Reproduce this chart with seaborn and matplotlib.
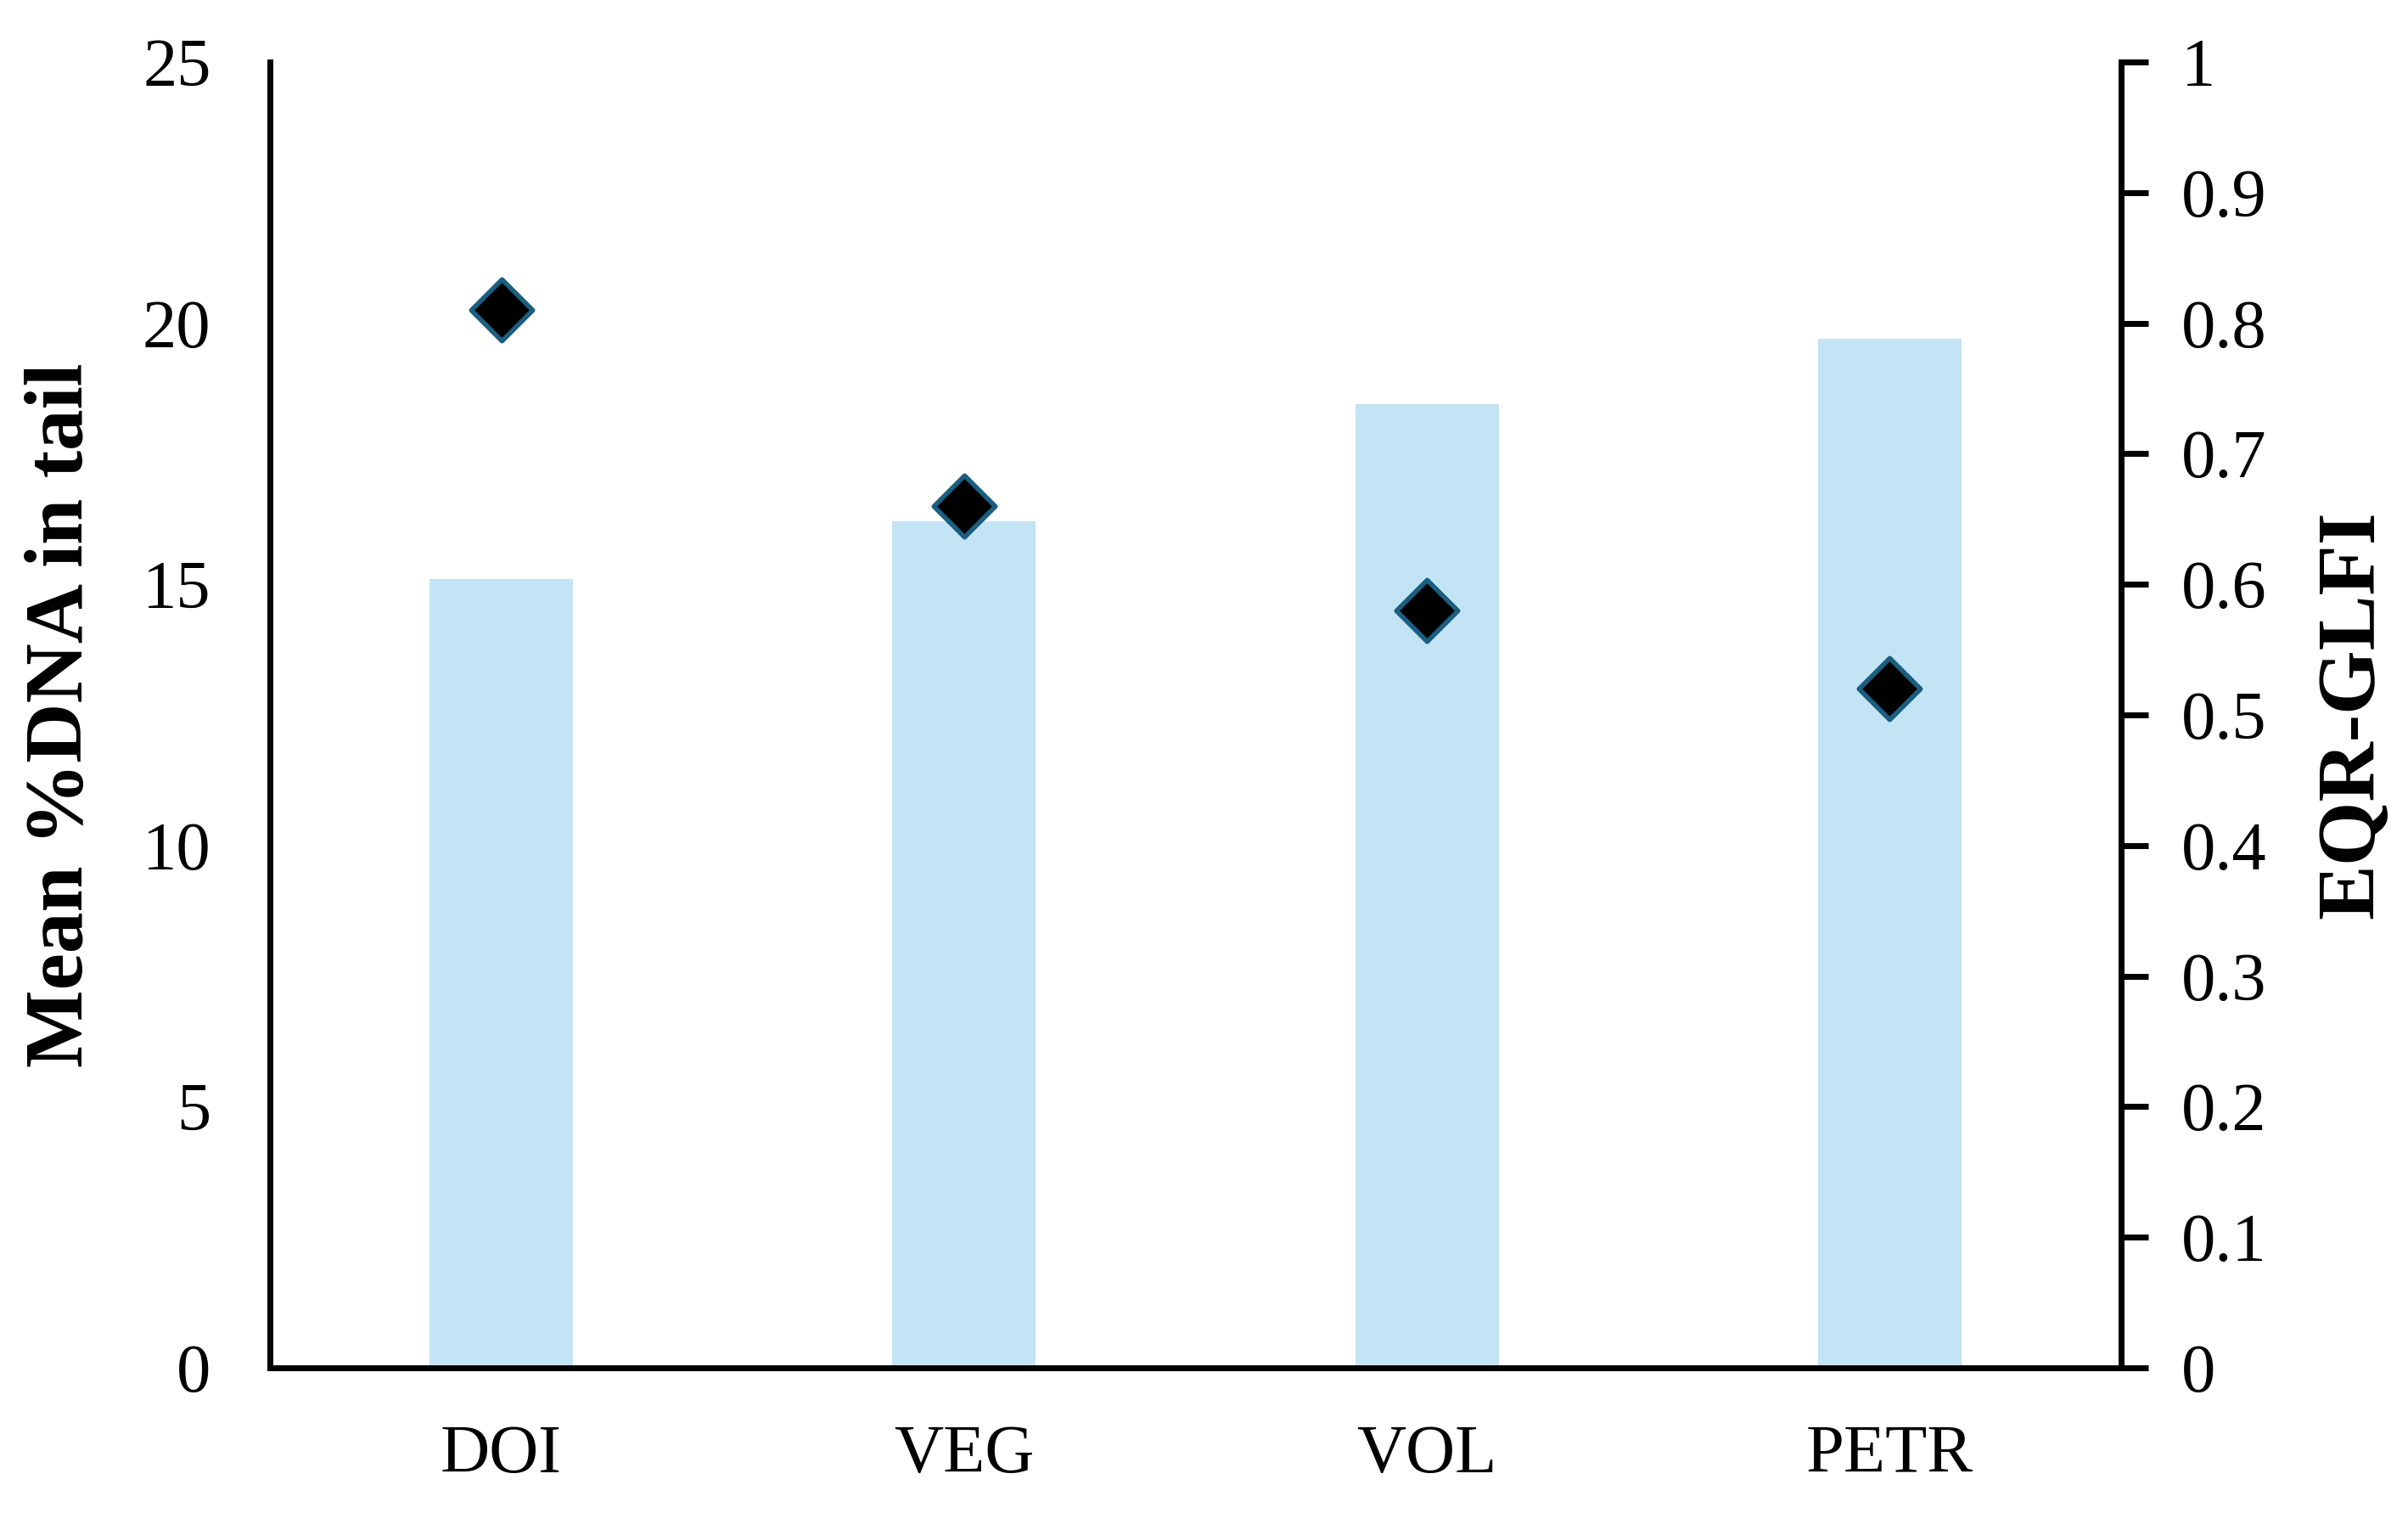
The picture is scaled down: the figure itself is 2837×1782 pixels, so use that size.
import matplotlib
matplotlib.use("Agg")
import matplotlib.pyplot as plt
import seaborn as sns
import pandas as pd

# values
sites = ["DOI", "VEG", "VOL", "PETR"]
mean_dna_tail = [15.1, 16.2, 18.45, 19.7]
eqr_glfi = [0.81, 0.66, 0.58, 0.52]

left_ticks = [0, 5, 10, 15, 20, 25]
right_ticks = [0, 0.1, 0.2, 0.3, 0.4, 0.5, 0.6, 0.7, 0.8, 0.9, 1]
right_labels = ["0", "0.1", "0.2", "0.3", "0.4", "0.5", "0.6", "0.7", "0.8", "0.9", "1"]

df = pd.DataFrame({"site": sites, "dna": mean_dna_tail, "eqr": eqr_glfi})

sns.set_theme(style="white")
plt.rcParams["font.family"] = ["Liberation Serif", "DejaVu Serif"]

fig = plt.figure(figsize=(14.185, 8.91), dpi=200)
ax = fig.add_axes([0.1121, 0.0960, 0.7688, 0.8630])

sns.barplot(data=df, x="site", y="dna", color="#C2E4F4", saturation=1,
            width=0.31, edgecolor="none", ax=ax)

ax2 = ax.twinx()
sns.scatterplot(data=df, x="site", y="eqr", marker="D", s=340,
                color="black", edgecolor="#1B5E80", linewidth=2, ax=ax2,
                zorder=5, legend=False)

ax.set_xlim(-0.5, 3.5)
ax.set_ylim(0, 25)
ax2.set_ylim(0, 1)

ax.set_yticks(left_ticks)
ax.set_yticklabels([str(t) for t in left_ticks])
ax2.set_yticks(right_ticks)
ax2.set_yticklabels(right_labels)

for a in (ax, ax2):
    a.spines["top"].set_visible(False)
    for s in a.spines.values():
        s.set_linewidth(2.5)
        s.set_color("black")
ax.spines["right"].set_visible(False)
ax2.spines["left"].set_visible(False)
ax2.spines["bottom"].set_visible(False)

ax.tick_params(axis="x", length=0, pad=24, labelsize=29, colors="black")
ax.tick_params(axis="y", length=0, pad=25, labelsize=29, colors="black")
ax2.tick_params(axis="y", direction="out", length=11.5, width=2.5,
                pad=14, labelsize=29, colors="black")

ax.set_xlabel("")
ax.set_ylabel("Mean %DNA in tail", fontsize=35, fontweight="bold", color="black")
ax2.set_ylabel("EQR-GLFI", fontsize=35, fontweight="bold", color="black")
ax.yaxis.set_label_coords(-0.0917, 0.5)
ax2.yaxis.set_label_coords(1.105, 0.5)

ax.grid(False)
ax2.grid(False)

fig.savefig("out.png", dpi=200, facecolor="white")
